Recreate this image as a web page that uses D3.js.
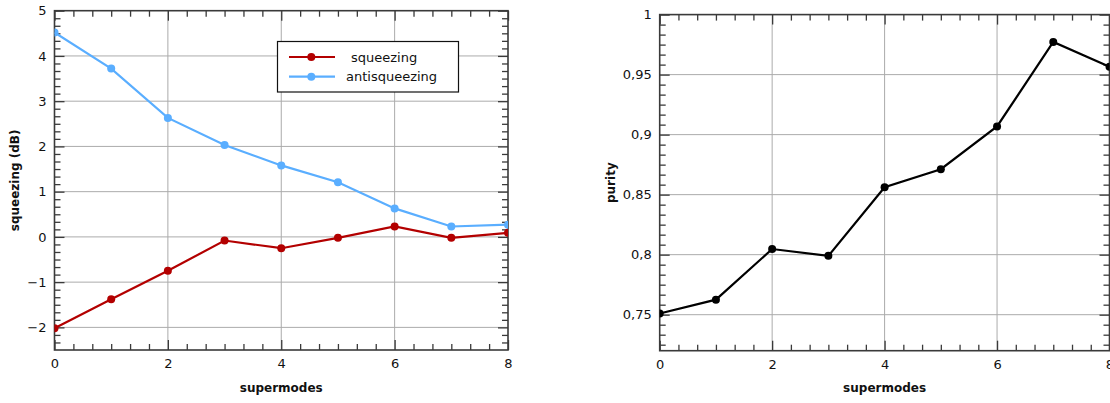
<!DOCTYPE html>
<html>
<head>
<meta charset="utf-8">
<script src="https://cdn.jsdelivr.net/npm/d3@7"></script>
<style>
  html, body { margin: 0; padding: 0; background: #fff; }
  svg { display: block; font-family: "DejaVu Sans", sans-serif; }
</style>
</head>
<body>
<svg id="chart" width="1110" height="403"></svg>
<script>
// ---- Data ----
const supermodes = [0, 1, 2, 3, 4, 5, 6, 7, 8];
const squeezing = [-2.02, -1.38, -0.75, -0.08, -0.25, -0.02, 0.23, -0.02, 0.09];
const antisqueezing = [4.52, 3.72, 2.63, 2.03, 1.58, 1.21, 0.63, 0.23, 0.27];
const purity = [0.751, 0.7625, 0.8047, 0.799, 0.8562, 0.8712, 0.9068, 0.9772, 0.9566];
const xTicks = [0, 2, 4, 6, 8];
const leftYTicks = [-2, -1, 0, 1, 2, 3, 4, 5];
const rightYTicks = [0.75, 0.8, 0.85, 0.9, 0.95, 1];
const seriesNames = ["squeezing", "antisqueezing"];
const seriesColors = ["#b30000", "#5aaeff"];

const svg = d3.select("#chart");
const frameColor = "#3a3a3a";
const gridColor = "#ababab";

function minorRange(lo, hi, step, majors) {
  const out = [];
  const n = Math.round((hi - lo) / step);
  for (let i = 0; i <= n; i++) {
    const v = lo + i * step;
    if (!majors.some(m => Math.abs(m - v) < step / 10)) out.push(v);
  }
  return out;
}

function panel(opts) {
  const { x0, x1, y0, y1, yDomain, yMajor, yMinorStep, yFmt, yLabel, yLabelX, id } = opts;
  const x = d3.scaleLinear().domain([0, 8]).range([x0, x1]);
  const y = d3.scaleLinear().domain(yDomain).range([y1, y0]);
  const g = svg.append("g");

  // clip
  svg.append("clipPath").attr("id", id).append("rect")
    .attr("x", x0).attr("y", y0).attr("width", x1 - x0).attr("height", y1 - y0);

  // grid
  g.append("g").selectAll("line").data(xTicks.filter(v => v > 0 && v < 8)).join("line")
    .attr("x1", d => x(d)).attr("x2", d => x(d)).attr("y1", y0).attr("y2", y1)
    .attr("stroke", gridColor).attr("stroke-width", 1);
  g.append("g").selectAll("line").data(yMajor.filter(v => v > yDomain[0] && v < yDomain[1])).join("line")
    .attr("x1", x0).attr("x2", x1).attr("y1", d => y(d)).attr("y2", d => y(d))
    .attr("stroke", gridColor).attr("stroke-width", 1);

  const xMinor = minorRange(0, 8, 1 / 3, xTicks);
  const yMinor = minorRange(yMajor[0] - Math.floor((yMajor[0] - yDomain[0]) / yMinorStep + 1e-6) * yMinorStep,
                            yDomain[1], yMinorStep, yMajor).filter(v => v > yDomain[0] + 1e-9 && v < yDomain[1] - 1e-9);

  function styleAxis(sel) {
    sel.select(".domain").remove();
    sel.selectAll(".tick line").attr("stroke", frameColor).attr("stroke-width", 1.3);
    sel.selectAll(".tick text").attr("fill", "#111").style("font-size", "13px")
      .style("font-family", "'DejaVu Sans', sans-serif");
  }

  // bottom
  g.append("g").attr("transform", `translate(0,${y1})`)
    .call(d3.axisBottom(x).tickValues(xTicks).tickSize(-10).tickPadding(9).tickFormat(d3.format("d")))
    .call(styleAxis);
  g.append("g").attr("transform", `translate(0,${y1})`)
    .call(d3.axisBottom(x).tickValues(xMinor).tickSize(-6).tickFormat(""))
    .call(styleAxis);
  // top
  g.append("g").attr("transform", `translate(0,${y0})`)
    .call(d3.axisTop(x).tickValues(xTicks).tickSize(-10).tickFormat(""))
    .call(styleAxis);
  g.append("g").attr("transform", `translate(0,${y0})`)
    .call(d3.axisTop(x).tickValues(xMinor).tickSize(-6).tickFormat(""))
    .call(styleAxis);
  // left
  g.append("g").attr("transform", `translate(${x0},0)`)
    .call(d3.axisLeft(y).tickValues(yMajor).tickSize(-10).tickPadding(8).tickFormat(yFmt))
    .call(styleAxis);
  g.append("g").attr("transform", `translate(${x0},0)`)
    .call(d3.axisLeft(y).tickValues(yMinor).tickSize(-6).tickFormat(""))
    .call(styleAxis);
  // right
  g.append("g").attr("transform", `translate(${x1},0)`)
    .call(d3.axisRight(y).tickValues(yMajor).tickSize(-10).tickFormat(""))
    .call(styleAxis);
  g.append("g").attr("transform", `translate(${x1},0)`)
    .call(d3.axisRight(y).tickValues(yMinor).tickSize(-6).tickFormat(""))
    .call(styleAxis);

  // frame
  g.append("rect").attr("x", x0).attr("y", y0).attr("width", x1 - x0).attr("height", y1 - y0)
    .attr("fill", "none").attr("stroke", frameColor).attr("stroke-width", 1.6);

  // axis titles
  svg.append("text").attr("x", (x0 + x1) / 2).attr("y", 392).attr("text-anchor", "middle")
    .style("font-size", "12px").style("font-weight", "bold").attr("fill", "#111").text("supermodes");
  svg.append("text").attr("transform", `translate(${yLabelX},${(y0 + y1) / 2}) rotate(-90)`)
    .attr("text-anchor", "middle").style("font-size", "12px").style("font-weight", "bold")
    .attr("fill", "#111").text(yLabel);

  return { x, y, g };
}

const fmtLeft = d => (d < 0 ? "\u2212" + Math.abs(d) : String(d));
const fmtRight = d => String(+d.toFixed(2)).replace(".", ",");

// ---- Left panel ----
const L = panel({ x0: 54.5, x1: 508, y0: 10.7, y1: 350, yDomain: [-2.5, 5], yMajor: leftYTicks,
  yMinorStep: 1 / 6, yFmt: fmtLeft, yLabel: "squeezing (dB)", yLabelX: 19, id: "clipL" });

[squeezing, antisqueezing].forEach((vals, i) => {
  const data = supermodes.map((s, j) => [s, vals[j]]);
  const layer = svg.append("g").attr("clip-path", "url(#clipL)");
  layer.append("path").datum(data)
    .attr("d", d3.line().x(d => L.x(d[0])).y(d => L.y(d[1])))
    .attr("fill", "none").attr("stroke", seriesColors[i]).attr("stroke-width", 2.2);
  layer.selectAll("circle").data(data).join("circle")
    .attr("cx", d => L.x(d[0])).attr("cy", d => L.y(d[1])).attr("r", 4)
    .attr("fill", seriesColors[i]);
});

// legend
const leg = svg.append("g");
leg.append("rect").attr("x", 277.5).attr("y", 41.5).attr("width", 181).attr("height", 50.5)
  .attr("fill", "#fff").attr("stroke", "#111").attr("stroke-width", 1.2);
const legTextX = [351, 346];
seriesNames.forEach((name, i) => {
  const yy = 57 + i * 19.7;
  leg.append("line").attr("x1", 289).attr("x2", 335).attr("y1", yy).attr("y2", yy)
    .attr("stroke", seriesColors[i]).attr("stroke-width", 2.2);
  leg.append("circle").attr("cx", 311.3).attr("cy", yy).attr("r", 4).attr("fill", seriesColors[i]);
  leg.append("text").attr("x", legTextX[i]).attr("y", yy + 4.5).style("font-size", "13px")
    .attr("fill", "#111").text(name);
});

// ---- Right panel ----
const R = panel({ x0: 659.7, x1: 1109.5, y0: 14.6, y1: 350.7, yDomain: [0.72, 1], yMajor: rightYTicks,
  yMinorStep: 0.05 / 6, yFmt: fmtRight, yLabel: "purity", yLabelX: 615, id: "clipR" });

const pData = supermodes.map((s, j) => [s, purity[j]]);
const rl = svg.append("g").attr("clip-path", "url(#clipR)");
rl.append("path").datum(pData)
  .attr("d", d3.line().x(d => R.x(d[0])).y(d => R.y(d[1])))
  .attr("fill", "none").attr("stroke", "#000").attr("stroke-width", 2.2);
rl.selectAll("circle").data(pData).join("circle")
  .attr("cx", d => R.x(d[0])).attr("cy", d => R.y(d[1])).attr("r", 4).attr("fill", "#000");
</script>
</body>
</html>
